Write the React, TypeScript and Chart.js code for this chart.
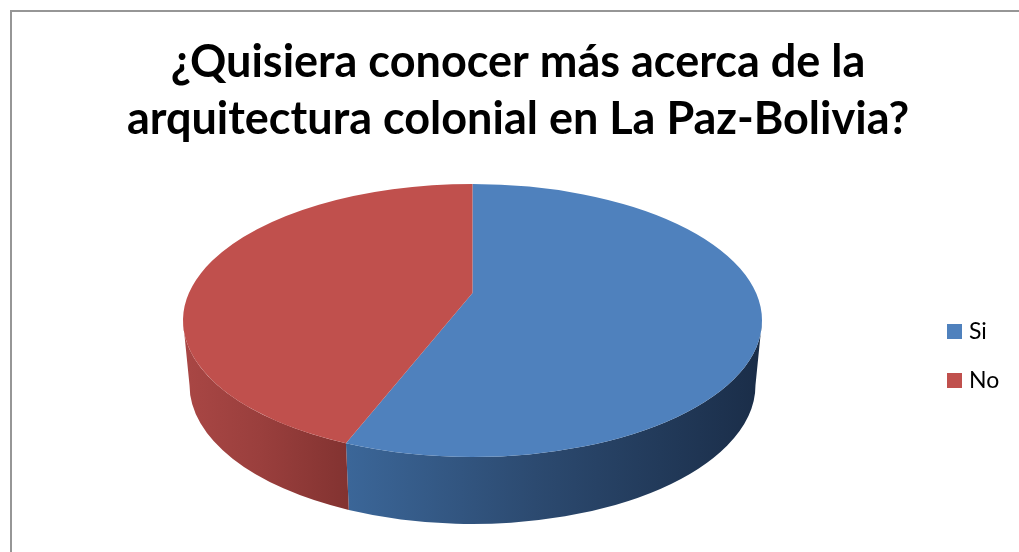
import React, { useEffect, useRef } from "react";
import { Chart, registerables } from "chart.js";

Chart.register(...registerables);

const categories = ["Si", "No"];
const values = [57.2, 42.8];
const titleLines = ["¿Quisiera conocer más acerca de la", "arquitectura colonial en La Paz-Bolivia?"];
const faceColors = ["#4f81bd", "#c0504d"];
const sideStops = [
  ["#3b6698", "#2c4a70", "#1a2d48"],
  ["#a84644", "#9a3f3d", "#833331"],
];

const pie3d = {
  id: "pie3d",
  beforeDraw(chart: any) {
    const { ctx } = chart;
    ctx.save();
    ctx.strokeStyle = "#969696";
    ctx.lineWidth = 2;
    ctx.beginPath();
    ctx.moveTo(11, 552);
    ctx.lineTo(11, 11);
    ctx.lineTo(1019, 11);
    ctx.stroke();
    ctx.restore();
  },
  afterLayout(chart: any) {
    chart.chartArea = { left: 183, right: 762, top: 184, bottom: 457, width: 579, height: 273 };
    chart.legend.left = 925.5;
    chart.legend.top = 294;
  },
  beforeDatasetDraw(chart: any, args: any) {
    const { ctx } = chart;
    const arcs = chart.getDatasetMeta(args.index).data;
    const cx = arcs[0].x;
    const cy = arcs[0].y;
    const rx = arcs[0].outerRadius;
    const ry = rx * 0.4715;
    const brx = rx * 0.9775;
    const bry = rx * 0.48;
    const bcy = cy + 64.5;
    const apexY = cy - 27.5;

    arcs.forEach((arc: any, i: number) => {
      const a = Math.max(arc.startAngle, 0);
      const b = Math.min(arc.endAngle, Math.PI);
      if (b > a) {
        const span = [cx + brx * Math.cos(b), cx + rx * Math.cos(a)];
        const g = ctx.createLinearGradient(Math.min(...span), 0, Math.max(...span), 0);
        const stops = sideStops[i];
        g.addColorStop(0, stops[0]);
        g.addColorStop(0.45, stops[1]);
        g.addColorStop(1, stops[2]);
        ctx.beginPath();
        ctx.ellipse(cx, cy, rx, ry, 0, a, b, false);
        ctx.ellipse(cx, bcy, brx, bry, 0, b, a, true);
        ctx.closePath();
        ctx.fillStyle = g;
        ctx.fill();
      }
    });
    arcs.forEach((arc: any, i: number) => {
      ctx.beginPath();
      ctx.moveTo(cx, apexY);
      ctx.ellipse(cx, cy, rx, ry, 0, arc.startAngle, arc.endAngle, false);
      ctx.closePath();
      ctx.fillStyle = faceColors[i];
      ctx.fill();
    });
    return false;
  },
};

export default function App() {
  const ref = useRef<HTMLCanvasElement>(null);
  useEffect(() => {
    const chart = new Chart(ref.current as HTMLCanvasElement, {
      type: "pie",
      data: {
        labels: categories,
        datasets: [
          {
            data: values,
            backgroundColor: faceColors,
            borderColor: faceColors,
            borderWidth: 9,
          },
        ],
      },
      options: {
        animation: false,
        responsive: false,
        radius: 289.5,
        layout: { padding: { left: 17 } },
        plugins: {
          title: {
            display: true,
            text: titleLines,
            color: "#000000",
            font: { family: "Lato", size: 45, weight: "bold", lineHeight: 57 / 45 },
            padding: { top: 34, bottom: 10 },
          },
          legend: {
            display: true,
            position: "right",
            align: "start",
            labels: {
              boxWidth: 6,
              boxHeight: 6,
              padding: 26,
              color: "#000000",
              font: { family: "Lato", size: 23 },
            },
          },
          tooltip: { enabled: false },
        },
      } as any,
      plugins: [pie3d],
    });
    return () => chart.destroy();
  }, []);
  return (
    <div style={{ position: "absolute", left: 0, top: 0, width: 1019, height: 552, background: "#ffffff" }}>
      <canvas ref={ref} width={1019} height={552} style={{ display: "block" }} />
    </div>
  );
}
